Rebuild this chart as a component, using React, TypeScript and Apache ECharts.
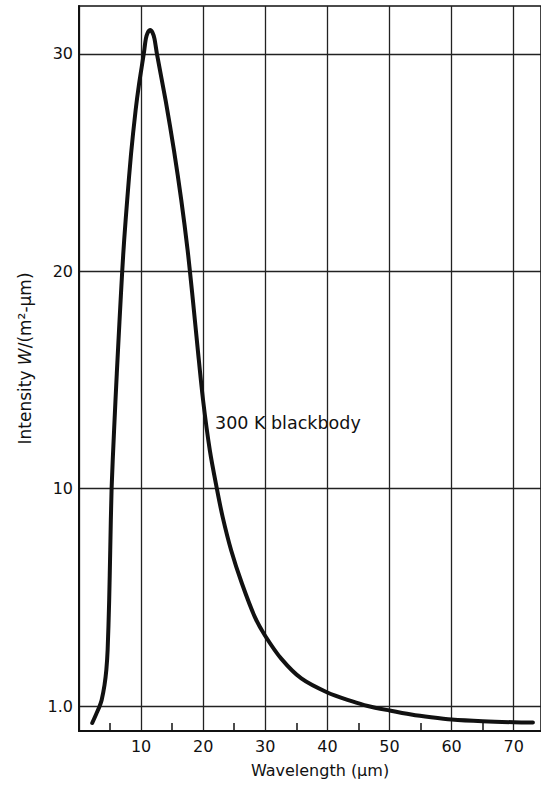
import React, { useEffect, useRef } from "react";
import * as echarts from "echarts";

// Spectral intensity of a 300 K blackbody.
const wavelength = [
  2.13, 2.83, 3.33, 3.65, 4.11, 4.4, 4.61, 4.86, 5.03, 5.25, 5.65, 6.09, 6.52,
  6.96, 7.28, 7.76, 8.37, 9.12, 9.66, 10.43, 10.77, 11.07, 11.46, 11.84, 12.15,
  12.55, 13.97, 15.3, 16.47, 17.48, 18.33, 19.13, 19.98, 21.07, 22.2, 23.14,
  24.5, 26.24, 28.31, 30.0, 32.6, 35.8, 40.0, 43.9, 46.5, 50.0, 53.5, 56.7,
  60.0, 65.0, 70.0, 73.1,
];
const intensity = [
  0.32, 0.71, 1.0, 1.25, 1.87, 2.49, 3.31, 5.38, 7.45, 10.0, 12.69, 15.31,
  17.69, 20.0, 21.45, 23.27, 25.36, 27.41, 28.59, 30.0, 30.7, 30.98, 31.1,
  30.98, 30.7, 30.0, 27.82, 25.55, 23.27, 21.0, 18.7, 16.39, 14.07, 11.76, 10.0,
  8.82, 7.45, 6.07, 4.69, 3.9, 2.95, 2.14, 1.56, 1.2, 1.0, 0.82, 0.66, 0.55,
  0.46, 0.39, 0.35, 0.34,
];

// Gridlines of the intensity scale and of the wavelength scale.
const intensityTicks = [1, 10, 20, 30];
const wavelengthStep = 10;
const wavelengthMax = 74.4;
const intensityTop = 32.2;

const curveLabel = "300 K blackbody";
const xName = "Wavelength (μm)";
const yName = "Intensity {w|W}/(m²-μm)";

// The printed scale is stretched below 10: 0–1, 1–10 and 10–30 each have
// their own spacing. Map intensities onto an evenly spaced axis coordinate.
function toAxis(v: number): number {
  if (v >= 10) return v;
  if (v >= 1) return ((v - 1) * 10) / 9;
  return (v - 1) * 1.15;
}
function fromAxis(d: number): number {
  if (d >= 10) return d;
  if (d >= 0) return 1 + d * 0.9;
  return 1 + d / 1.15;
}

const FONT = "DejaVu Sans";
const INK = "#111";

export default function App() {
  const ref = useRef<HTMLDivElement>(null);

  useEffect(() => {
    if (!ref.current) return;
    const chart = echarts.init(ref.current, null, { renderer: "svg" });

    const points = wavelength.map((x, i) => [x, toAxis(intensity[i])]);

    chart.setOption({
      animation: false,
      backgroundColor: "#fff",
      grid: {
        left: 79,
        right: -3,
        top: 6,
        bottom: 56,
        show: true,
        borderColor: INK,
        borderWidth: 1.5,
        backgroundColor: "transparent",
      },
      xAxis: {
        type: "value",
        min: 0,
        max: wavelengthMax,
        interval: wavelengthStep,
        name: xName,
        nameLocation: "middle",
        nameGap: 31,
        nameTextStyle: {
          fontFamily: FONT,
          fontSize: 16,
          color: INK,
          padding: [0, 0, 0, 20],
        },
        axisLine: {
          show: true,
          onZero: false,
          lineStyle: { color: INK, width: 2 },
        },
        axisTick: { show: false, inside: true },
        minorTick: {
          show: true,
          splitNumber: 2,
          length: 8,
          lineStyle: { color: INK, width: 1.5 },
        },
        axisLabel: {
          showMinLabel: false,
          showMaxLabel: false,
          margin: 7,
          fontFamily: FONT,
          fontSize: 16,
          color: INK,
        },
        splitLine: { show: true, lineStyle: { color: "#222", width: 1.3 } },
      },
      yAxis: {
        type: "value",
        min: toAxis(0),
        max: intensityTop,
        name: yName,
        nameLocation: "middle",
        nameRotate: 90,
        nameGap: 46,
        nameTextStyle: {
          fontFamily: FONT,
          fontSize: 17,
          color: INK,
          padding: [0, 0, 0, 20],
          rich: {
            w: { fontFamily: FONT, fontSize: 17, fontStyle: "italic", color: INK },
          },
        },
        axisLine: {
          show: true,
          onZero: false,
          lineStyle: { color: INK, width: 2 },
        },
        axisTick: { show: false, customValues: intensityTicks.map(toAxis) },
        axisLabel: {
          customValues: intensityTicks.map(toAxis),
          margin: 6,
          fontFamily: FONT,
          fontSize: 16,
          color: INK,
          formatter: (d: number) => {
            const v = fromAxis(d);
            return v < 10 ? v.toFixed(1) : String(Math.round(v));
          },
        },
        splitLine: { show: true, lineStyle: { color: "#222", width: 1.3 } },
      },
      series: [
        {
          type: "line",
          data: points,
          showSymbol: false,
          smooth: 0.3,
          clip: false,
          lineStyle: { color: INK, width: 4, cap: "round", join: "round" },
        },
      ],
      graphic: [
        {
          type: "text",
          x: 215,
          y: 423,
          style: {
            text: curveLabel,
            fontFamily: FONT,
            fontSize: 17.5,
            fill: INK,
            verticalAlign: "middle",
          },
        },
      ],
    });

    return () => chart.dispose();
  }, []);

  return (
    <div
      ref={ref}
      style={{
        position: "fixed",
        left: 0,
        top: 0,
        width: 541,
        height: 787,
        background: "#fff",
      }}
    />
  );
}
